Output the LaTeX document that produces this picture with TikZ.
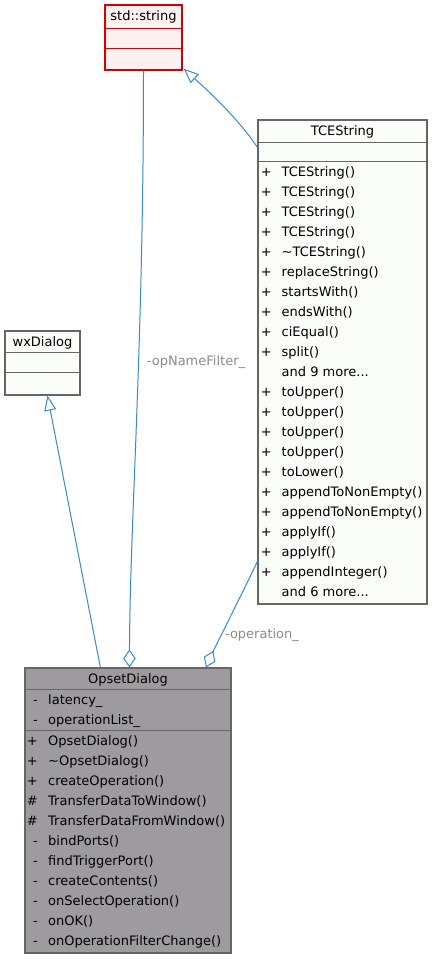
\documentclass[tikz,border=0pt]{standalone}
\usepackage{fontspec}
\setmainfont{DejaVu Sans}
\usetikzlibrary{arrows.meta,calc}
\newcommand\mydots{...}
\definecolor{edgeblue}{RGB}{56,136,210}
\definecolor{boxborder}{RGB}{102,102,102}
\definecolor{boxfill}{RGB}{250,252,248}
\definecolor{curfill}{RGB}{157,155,158}
\definecolor{strfill}{RGB}{253,240,240}
\definecolor{strborder}{RGB}{215,0,0}
\definecolor{lblgray}{RGB}{140,140,140}
\tikzset{
  txtfont/.style={font=\fontsize{13pt}{15pt}\selectfont},
  ubox/.style={draw=boxborder, fill=boxfill, line width=1.2pt, inner sep=0pt, rectangle},
  cbox/.style={draw=boxborder, fill=curfill, line width=1.2pt, inner sep=0pt, rectangle},
  sbox/.style={draw=strborder, fill=strfill, line width=1.3pt, inner sep=0pt, rectangle},
  sepline/.style={draw=boxborder, line width=1pt},
  ssepline/.style={draw=strborder, line width=1pt},
  title/.style={txtfont, inner sep=0pt, anchor=center},
  memb/.style={txtfont, inner sep=0pt, anchor=base west},
  symb/.style={txtfont, inner sep=0pt, anchor=base east},
  edge/.style={draw=edgeblue, line width=1pt},
  inh/.style={edge, -{Triangle[open, length=15pt, width=12pt]}},
  agg/.style={edge, -{Diamond[open, length=18pt, width=12.5pt]}},
  elabel/.style={txtfont, text=lblgray, inner sep=0pt, anchor=center}
}
\begin{document}
\begin{tikzpicture}[x=1pt,y=-1pt]
\useasboundingbox (0,0) rectangle (433,959);
\fill[white] (0,0) rectangle (433,959);

% std::string
\node[sbox, minimum width=77pt, minimum height=65pt] (str) at (143.5,37.5) {};
\draw[ssepline] ($(str.north west)+(0,24)$) -- ($(str.north east)+(0,24)$);
\draw[ssepline] ($(str.north west)+(0,44)$) -- ($(str.north east)+(0,44)$);
\node[title] (strt) at (143.5,17) {std::string};

% TCEString
\node[ubox, minimum width=169pt, minimum height=484pt] (tce) at (342.5,362) {};
\draw[sepline] ($(tce.north west)+(0,23)$) -- ($(tce.north east)+(0,23)$);
\draw[sepline] ($(tce.north west)+(0,42)$) -- ($(tce.north east)+(0,42)$);
\node[title] (tcet) at (342.5,132) {TCEString};
\foreach [count=\i] \s/\t in {
  +/TCEString(), +/TCEString(), +/TCEString(), +/TCEString(),
  +/\textasciitilde TCEString(), +/replaceString(), +/startsWith(),
  +/endsWith(), +/ciEqual(), +/split(), {}/{and 9 more\mydots}, +/toUpper(),
  +/toUpper(), +/toUpper(), +/toUpper(), +/toLower(),
  +/appendToNonEmpty(), +/appendToNonEmpty(), +/applyIf(), +/applyIf(),
  +/appendInteger(), {}/{and 6 more\mydots}} {
  \node[symb] (tces\i) at (272,{176.5+20*(\i-1)}) {\s};
  \node[memb] (tcem\i) at (281.5,{176.5+20*(\i-1)}) {\t};
}

% wxDialog
\node[ubox, minimum width=75pt, minimum height=64pt] (wx) at (42.5,363) {};
\draw[sepline] ($(wx.north west)+(0,22)$) -- ($(wx.north east)+(0,22)$);
\draw[sepline] ($(wx.north west)+(0,42)$) -- ($(wx.north east)+(0,42)$);
\node[title] (wxt) at (42.5,342.5) {wxDialog};

% OpsetDialog
\node[cbox, minimum width=206pt, minimum height=285pt] (ops) at (128,810.5) {};
\draw[sepline] ($(ops.north west)+(0,22.5)$) -- ($(ops.north east)+(0,22.5)$);
\draw[sepline] ($(ops.north west)+(0,63)$) -- ($(ops.north east)+(0,63)$);
\node[title] (opst) at (128,679.5) {OpsetDialog};
\foreach [count=\i] \s/\t in {-/latency\_, -/operationList\_} {
  \node[symb] (opsas\i) at (38,{704.5+20*(\i-1)}) {\s};
  \node[memb] (opsa\i) at (48,{704.5+20*(\i-1)}) {\t};
}
\foreach [count=\i] \s/\t in {
  +/OpsetDialog(), +/\textasciitilde OpsetDialog(), +/createOperation(),
  {\#}/TransferDataToWindow(), {\#}/TransferDataFromWindow(),
  -/bindPorts(), -/findTriggerPort(), -/createContents(),
  -/onSelectOperation(), -/onOK(), -/onOperationFilterChange()} {
  \node[symb] (opsms\i) at (38,{745.5+20*(\i-1)}) {\s};
  \node[memb] (opsm\i) at (48,{745.5+20*(\i-1)}) {\t};
}

% connector end points
\coordinate (tceIn) at ($(tce.north west)+(0,28)$);
\coordinate (strTip) at ($(str.south east)+(1,-2)$);
\coordinate (opsIn1) at ($(ops.north west)+(76,0)$);
\coordinate (wxTip) at ($(wx.south west)+(43,0)$);
\coordinate (strOut) at (str.south);
\coordinate (opsIn2) at ($(ops.north west)+(105,0)$);
\coordinate (tceOut) at ($(tce.north west)+(0,442)$);
\coordinate (opsIn3) at ($(ops.north west)+(181.5,0)$);

% connectors
\draw[inh] (tceIn) .. controls (238,118) and (205,88) .. (strTip);
\draw[inh] (opsIn1) -- (wxTip);
\draw[agg] (strOut) .. controls (143.5,350) and (130,520) .. (opsIn2);
\draw[agg] (tceOut) .. controls (245,588) and (216,645) .. (opsIn3);

\node[elabel] (lblA) at (196,362) {-opNameFilter\_};
\node[elabel] (lblB) at (262,635) {-operation\_};
\end{tikzpicture}
\end{document}
